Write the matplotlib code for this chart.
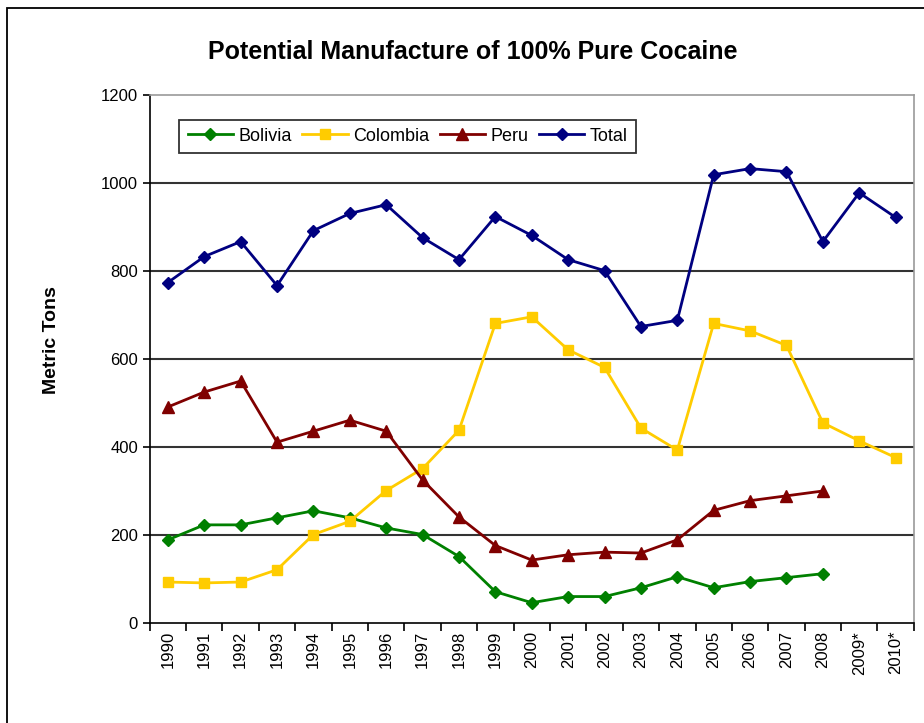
import matplotlib.pyplot as plt
from matplotlib.patches import Rectangle
import numpy as np

plt.rcParams['font.family'] = ['Liberation Sans', 'DejaVu Sans']

years = ["1990", "1991", "1992", "1993", "1994", "1995", "1996", "1997", "1998",
         "1999", "2000", "2001", "2002", "2003", "2004", "2005", "2006", "2007",
         "2008", "2009*", "2010*"]

bolivia = [188, 222, 222, 238, 254, 238, 215, 200, 150, 70, 45, 59, 59, 79,
           104, 79, 93, 102, 111]
colombia = [92, 90, 92, 120, 200, 230, 300, 350, 437, 680, 695, 620, 580, 442,
            392, 680, 663, 630, 454, 413, 375]
peru = [490, 524, 549, 410, 435, 460, 435, 324, 240, 175, 142, 154, 160, 158,
        188, 255, 277, 288, 299]
total = [773, 832, 866, 766, 891, 930, 950, 875, 825, 923, 880, 825, 800, 673,
         687, 1018, 1032, 1025, 866, 977, 921]

fig = plt.figure(figsize=(9.24, 7.23), dpi=100)
ax = fig.add_axes([0.162, 0.139, 0.827, 0.730])

# outer chart frame, running off the right and bottom edges
fig.patches.append(Rectangle((0.008, -0.05), 1.2, 1.039, transform=fig.transFigure,
                             fill=False, edgecolor='black', linewidth=1.3))

x = np.arange(len(years))
ax.plot(x[:len(bolivia)], bolivia, color='#008000', marker='D', markersize=6,
        linewidth=2, label='Bolivia')
ax.plot(x[:len(colombia)], colombia, color='#FFCC00', marker='s', markersize=7,
        linewidth=2, label='Colombia')
ax.plot(x[:len(peru)], peru, color='#800000', marker='^', markersize=8,
        linewidth=2, label='Peru')
ax.plot(x[:len(total)], total, color='#000080', marker='D', markersize=6,
        linewidth=2, label='Total')

ax.set_xlim(-0.5, len(years) - 0.5)
ax.set_ylim(0, 1200)
ax.set_yticks(range(0, 1201, 200))
ax.tick_params(axis='y', labelsize=12, direction='out', length=5, width=1.2)
ax.set_xticks(x)
ax.set_xticklabels(years, rotation=90, fontsize=12)
ax.set_xticks(np.arange(-0.5, len(years)), minor=True)
ax.tick_params(axis='x', which='major', length=0, pad=6)
ax.tick_params(axis='x', which='minor', direction='out', length=6, width=1.2)

for v in range(200, 1200, 200):
    ax.axhline(v, color='#333333', linewidth=1.5, zorder=0)

ax.spines['left'].set_color('black')
ax.spines['bottom'].set_color('black')
ax.spines['left'].set_linewidth(1.2)
ax.spines['bottom'].set_linewidth(1.2)
ax.spines['top'].set_color('#999999')
ax.spines['right'].set_color('#999999')
ax.spines['top'].set_linewidth(1.2)
ax.spines['right'].set_linewidth(1.2)

ax.set_ylabel('Metric Tons', fontsize=14, fontweight='bold')
ax.yaxis.set_label_coords(-0.118, 0.535)
fig.text(0.512, 0.928, 'Potential Manufacture of 100% Pure Cocaine',
         ha='center', va='center', fontsize=18, fontweight='bold')

leg = ax.legend(loc='upper left', bbox_to_anchor=(0.039, 0.953), ncol=4,
                fontsize=13, frameon=True, fancybox=False, handlelength=2.5,
                columnspacing=0.6, handletextpad=0.3, borderpad=0.45,
                borderaxespad=0)
leg.get_frame().set_edgecolor('black')
leg.get_frame().set_linewidth(1.3)

fig.savefig('out.png', dpi=100)
